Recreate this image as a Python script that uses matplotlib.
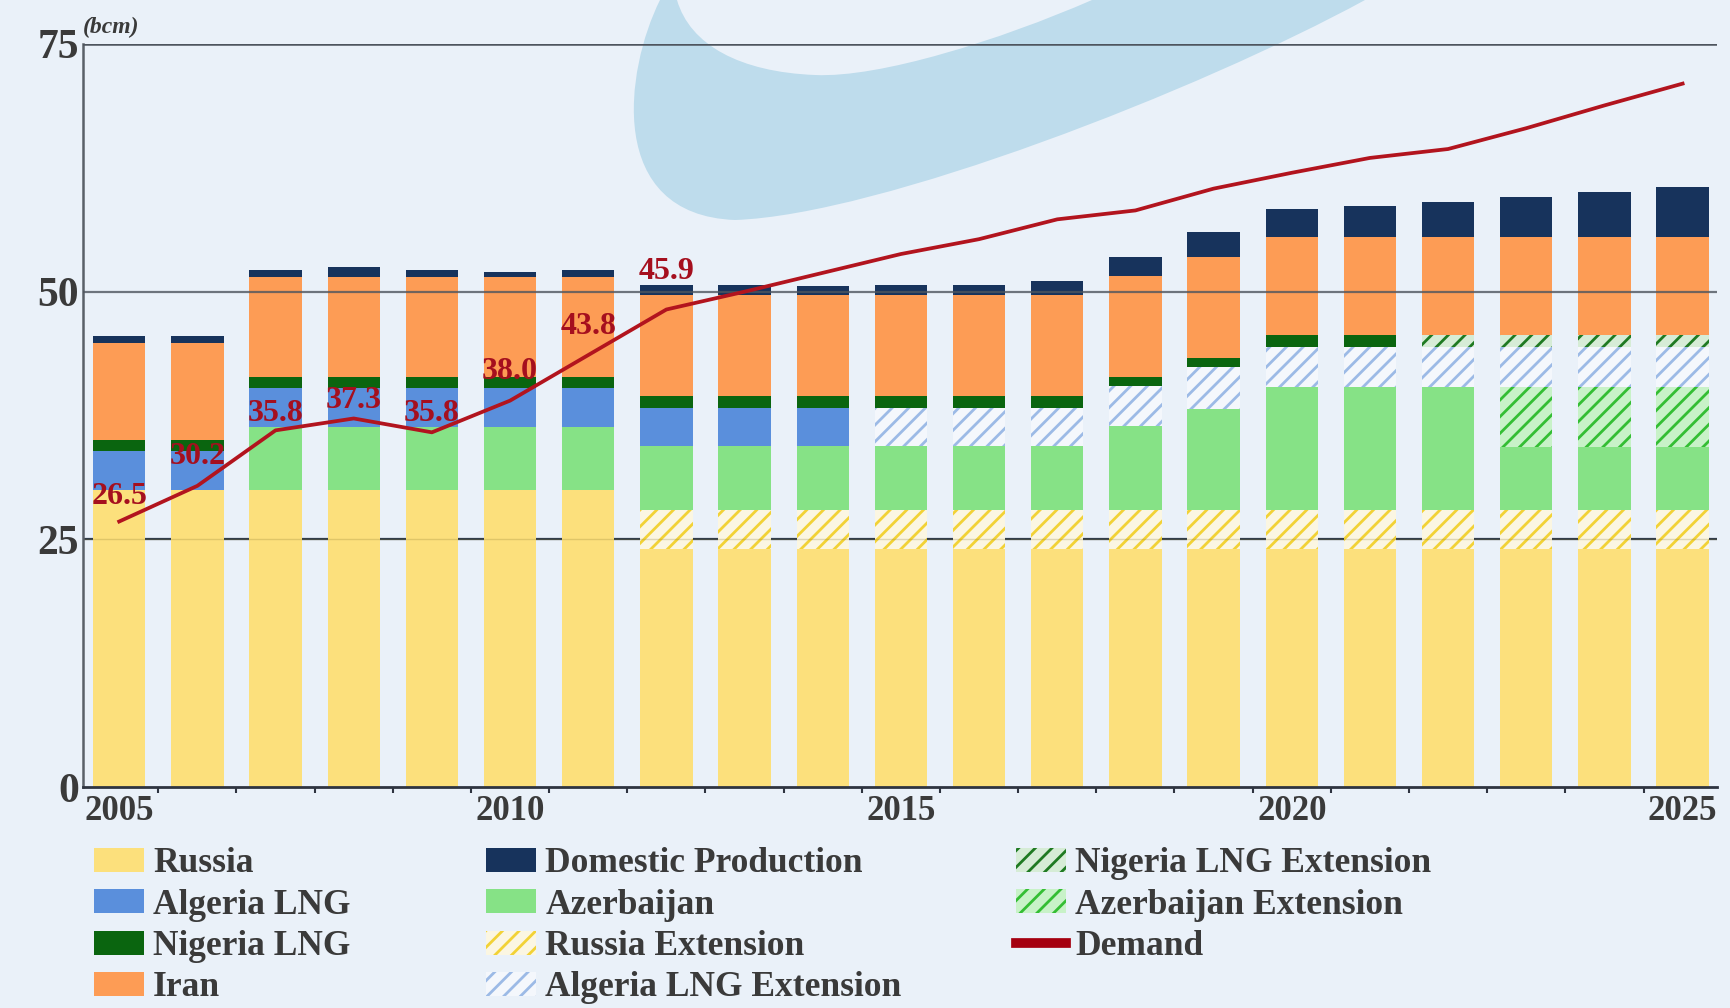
import numpy as np
import matplotlib
matplotlib.use("Agg")
import matplotlib.pyplot as plt
from matplotlib.path import Path
from matplotlib.patches import PathPatch
from matplotlib.lines import Line2D

# ---- data (bcm) ----
years = np.arange(2005, 2026)
russia         = [30, 30, 30, 30, 30, 30, 30, 24, 24, 24, 24, 24, 24, 24, 24, 24, 24, 24, 24, 24, 24]
russia_ext     = [0, 0, 0, 0, 0, 0, 0, 4, 4, 4, 4, 4, 4, 4, 4, 4, 4, 4, 4, 4, 4]
azerbaijan     = [0, 0, 6.3, 6.3, 6.3, 6.3, 6.3, 6.4, 6.4, 6.4, 6.4, 6.4, 6.4, 8.4, 10.2, 12.4, 12.4, 12.4, 6.3, 6.3, 6.3]
azerbaijan_ext = [0, 0, 0, 0, 0, 0, 0, 0, 0, 0, 0, 0, 0, 0, 0, 0, 0, 0, 6.1, 6.1, 6.1]
algeria        = [3.9, 3.9, 4.0, 4.0, 4.0, 4.0, 4.0, 3.9, 3.9, 3.9, 0, 0, 0, 0, 0, 0, 0, 0, 0, 0, 0]
algeria_ext    = [0, 0, 0, 0, 0, 0, 0, 0, 0, 0, 3.9, 3.9, 3.9, 4.1, 4.2, 4.0, 4.0, 4.0, 4.0, 4.0, 4.0]
nigeria        = [1.1, 1.1, 1.1, 1.1, 1.1, 1.1, 1.1, 1.2, 1.2, 1.2, 1.2, 1.2, 1.2, 0.9, 0.9, 1.2, 1.2, 0, 0, 0, 0]
nigeria_ext    = [0, 0, 0, 0, 0, 0, 0, 0, 0, 0, 0, 0, 0, 0, 0, 0, 0, 1.2, 1.2, 1.2, 1.2]
iran           = [9.8, 9.8, 10.1, 10.1, 10.1, 10.1, 10.1, 10.2, 10.2, 10.2, 10.2, 10.2, 10.2, 10.2, 10.2, 9.9, 9.9, 9.9, 9.9, 9.9, 9.9]
domestic       = [0.7, 0.7, 0.7, 1.0, 0.7, 0.5, 0.7, 1.0, 1.0, 0.9, 1.0, 1.0, 1.4, 1.9, 2.5, 2.8, 3.1, 3.6, 4.1, 4.6, 5.1]
demand         = [26.8, 30.4, 36.0, 37.2, 35.8, 39.0, 43.6, 48.2, 50.0, 51.9, 53.8, 55.3, 57.3, 58.2,
                  60.4, 62.0, 63.5, 64.4, 66.5, 68.8, 71.0]

label_years  = [2005, 2006, 2007, 2008, 2009, 2010, 2011, 2012]
label_values = [26.5, 30.2, 35.8, 37.3, 35.8, 38.0, 43.8, 45.9]
label_dy     = [2.5, 3.0, 1.7, 1.8, 1.9, 2.9, 2.9, 3.8]

BG = "#EAF1F9"
SERIF = "Liberation Serif"
TXT = "#3A3A3A"
plt.rcParams["hatch.linewidth"] = 2.0

fig = plt.figure(figsize=(17.31, 10.08), dpi=100, facecolor=BG)
W, H = 1731, 1008


def fx(x, y):
    return (x / W, 1 - y / H)


# watermark swoosh (figure coords, from pixel outline)
verts = [fx(660, 0),
         fx(625, 70), fx(605, 215), fx(735, 220),
         fx(880, 215), fx(1200, 90), fx(1365, 0),
         fx(1092, 0),
         fx(1000, 40), fx(880, 78), fx(815, 75),
         fx(740, 72), fx(690, 45), fx(677, 0),
         fx(660, 0)]
codes = [Path.MOVETO,
         Path.CURVE4, Path.CURVE4, Path.CURVE4,
         Path.CURVE4, Path.CURVE4, Path.CURVE4,
         Path.LINETO,
         Path.CURVE4, Path.CURVE4, Path.CURVE4,
         Path.CURVE4, Path.CURVE4, Path.CURVE4,
         Path.CLOSEPOLY]
swoosh = PathPatch(Path(verts, codes), facecolor="#BEDCEC", edgecolor="none",
                   transform=fig.transFigure, zorder=-1)
fig.add_artist(swoosh)

ax = fig.add_axes([83 / W, 1 - 787 / H, (1717 - 83) / W, (787 - 44) / H])
ax.patch.set_alpha(0)
ax.set_xlim(2004.537, 2025.44)
ax.set_ylim(0, 75)

# series: (values, label, facecolor, hatch colour or None)
series = [
    (russia, "Russia", "#FCE07C", None),
    (russia_ext, "Russia Extension", "#FBF6E2", "#F2D236"),
    (azerbaijan, "Azerbaijan", "#86E286", None),
    (azerbaijan_ext, "Azerbaijan Extension", "#C8F2C8", "#34BE34"),
    (algeria, "Algeria LNG", "#5A8FDC", None),
    (algeria_ext, "Algeria LNG Extension", "#F4F7FC", "#9CBAE6"),
    (nigeria, "Nigeria LNG", "#0A650F", None),
    (nigeria_ext, "Nigeria LNG Extension", "#D6ECD6", "#1F7A22"),
    (iran, "Iran", "#FD9C55", None),
    (domestic, "Domestic Production", "#17335C", None),
]

handles = {}
bottom = np.zeros(len(years))
for vals, lab, fc, hc in series:
    vals = np.array(vals, dtype=float)
    if hc is None:
        b = ax.bar(years, vals, 0.67, bottom=bottom, color=fc, linewidth=0, zorder=2, label=lab)
    else:
        b = ax.bar(years, vals, 0.67, bottom=bottom, facecolor=fc, edgecolor=hc, hatch="//",
                   linewidth=0, zorder=2, label=lab)
    handles[lab] = b
    bottom += vals

# reference lines
ax.axhline(25, color="#2E3A4C", lw=1.6, zorder=1)
ax.axhline(25, color="#8A7A30", lw=1.0, alpha=0.25, zorder=2.5)
ax.axhline(50, color="#4E555E", lw=1.6, alpha=0.8, zorder=3)
ax.axhline(75, color="#4E555E", lw=1.8, zorder=3)

# demand line and labels
ax.plot(years, demand, color="#B2141E", lw=2.7, zorder=5, solid_joinstyle="round")
for yr, val, dy in zip(label_years, label_values, label_dy):
    ax.text(yr, demand[yr - 2005] + dy, f"{val:.1f}", ha="center", va="center",
            fontsize=23, fontweight="bold", family=SERIF, color="#A50F1E", zorder=6)

# axes styling
for s in ["top", "right"]:
    ax.spines[s].set_visible(False)
ax.spines["left"].set_color("#5A6068")
ax.spines["left"].set_linewidth(1.8)
ax.spines["bottom"].set_color("#2E3440")
ax.spines["bottom"].set_linewidth(2.0)
ax.spines["bottom"].set_zorder(4)

ax.set_yticks([0, 25, 50, 75])
ax.tick_params(axis="y", length=0, pad=3, labelsize=30, labelcolor=TXT)
ax.set_xticks([2005, 2010, 2015, 2020, 2025])
ax.set_xticks(np.arange(2005.5, 2025, 1), minor=True)
ax.tick_params(axis="x", which="major", length=0, pad=6, labelsize=25, labelcolor=TXT)
ax.tick_params(axis="x", which="minor", length=4, width=1.5, color="#2E3440", direction="out")
for lbl in ax.get_xticklabels() + ax.get_yticklabels():
    lbl.set_family(SERIF)
    lbl.set_fontweight("bold")

ax.text(0.0, 1.008, "(bcm)", transform=ax.transAxes, ha="left", va="bottom",
        fontsize=17, fontstyle="italic", fontweight="bold", family=SERIF, color=TXT)

# legend in three columns
demand_handle = Line2D([], [], color="#A50010", lw=7)
cols = [
    (["Russia", "Algeria LNG", "Nigeria LNG", "Iran"], 94),
    (["Domestic Production", "Azerbaijan", "Russia Extension", "Algeria LNG Extension"], 486),
    (["Nigeria LNG Extension", "Azerbaijan Extension", "Demand"], 1016),
]
for names, xpx in cols:
    hs = [demand_handle if n == "Demand" else handles[n] for n in names]
    leg = fig.legend(hs, names, loc="upper left", bbox_to_anchor=fx(xpx, 847),
                     frameon=False, borderpad=0, borderaxespad=0, labelspacing=0.24,
                     handlelength=1.42, handleheight=0.66, handletextpad=0.25,
                     prop={"family": SERIF, "weight": "bold", "size": 25.5})
    for t in leg.get_texts():
        t.set_color(TXT)

fig.savefig("out.png", dpi=100, facecolor=BG)
